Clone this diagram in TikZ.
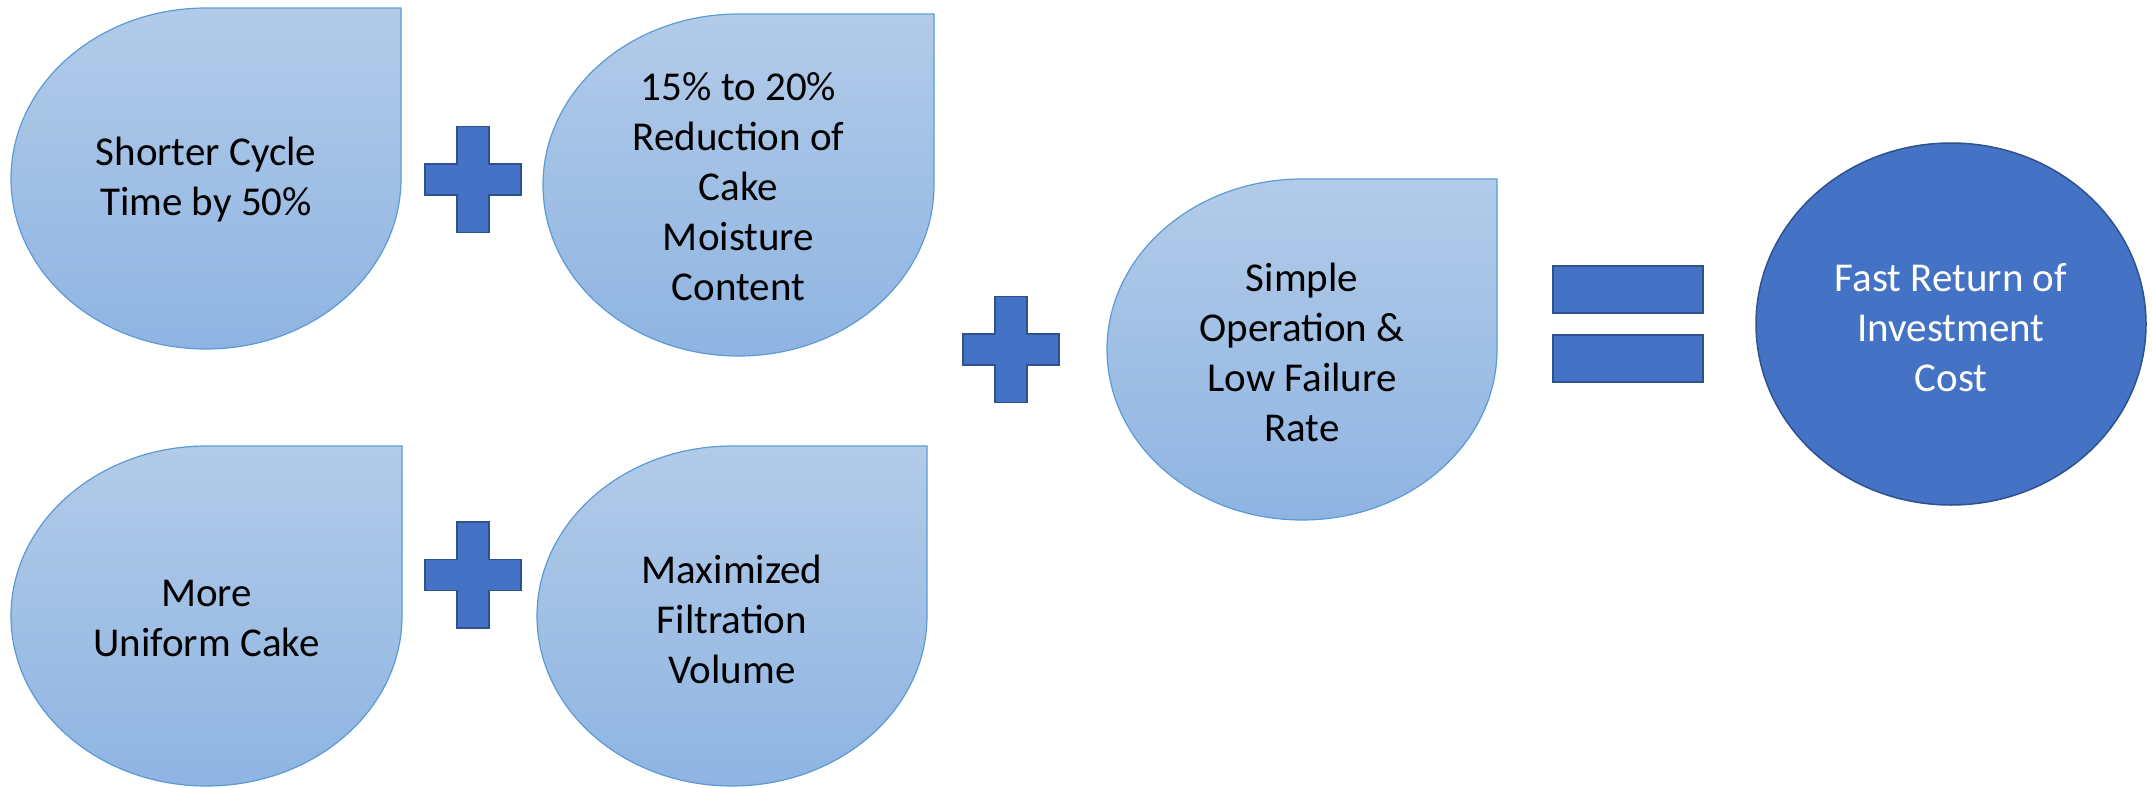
\documentclass[tikz,border=0pt]{standalone}
\usepackage{fontspec}
\setmainfont{Carlito}
\definecolor{tearTop}{HTML}{B2CBE8}
\definecolor{tearBot}{HTML}{8FB4E2}
\definecolor{tearLine}{HTML}{5B9BD5}
\definecolor{opFill}{HTML}{4472C4}
\definecolor{opLine}{HTML}{2F528F}
\newcommand\teardropshape[4]{% cx, cy, rx, ry
  \path[tear] (#1,#2+#4) -- (#1+#3,#2+#4) -- (#1+#3,#2)
    arc[start angle=0, end angle=-270, x radius=#3, y radius=#4] -- cycle;}
\newcommand\plusshape[2]{% cx, cy
  \path[opshape] (#1-16,#2+53) -- (#1+16,#2+53) -- (#1+16,#2+15.5) -- (#1+48,#2+15.5)
    -- (#1+48,#2-15.5) -- (#1+16,#2-15.5) -- (#1+16,#2-53) -- (#1-16,#2-53)
    -- (#1-16,#2-15.5) -- (#1-48,#2-15.5) -- (#1-48,#2+15.5) -- (#1-16,#2+15.5) -- cycle;}
\tikzset{
  tear/.style={top color=tearTop, bottom color=tearBot, draw=tearLine, line width=1.2pt},
  opshape/.style={fill=opFill, draw=opLine, line width=1.5pt},
  lbl/.style={align=center, font=\fontsize{41}{50}\selectfont, text=black},
  wlbl/.style={lbl, text=white}
}
\begin{document}
\begin{tikzpicture}[x=1pt,y=1pt]
\useasboundingbox (0,0) rectangle (2152,-787);
\teardropshape{206}{-178.5}{195}{170.5}
\teardropshape{738.5}{-185}{195.5}{171}
\teardropshape{206.5}{-616}{195.5}{170}
\teardropshape{732}{-616}{195}{170}
\teardropshape{1302}{-349.5}{195}{170.5}
\path[opshape] (1951,-324) ellipse[x radius=195, y radius=181];
\plusshape{473}{-179.5}
\plusshape{473}{-575}
\plusshape{1011}{-349.5}
\path[opshape] (1553,-266) rectangle (1703,-313);
\path[opshape] (1553,-335) rectangle (1703,-382);
\node[lbl] (t1) at (206,-180) {Shorter Cycle\\Time by 50\%};
\node[lbl] (t2) at (738.5,-187) {15\% to 20\%\\Reduction of\\Cake\\Moisture\\Content};
\node[lbl] (t3) at (206.5,-618) {More\\Uniform Cake};
\node[lbl] (t4) at (732,-619) {Maximized\\Filtration\\Volume};
\node[lbl] (t5) at (1302,-352) {Simple\\Operation \&\\Low Failure\\Rate};
\node[wlbl] (t6) at (1951,-328) {Fast Return of\\Investment\\Cost};
\end{tikzpicture}
\end{document}
